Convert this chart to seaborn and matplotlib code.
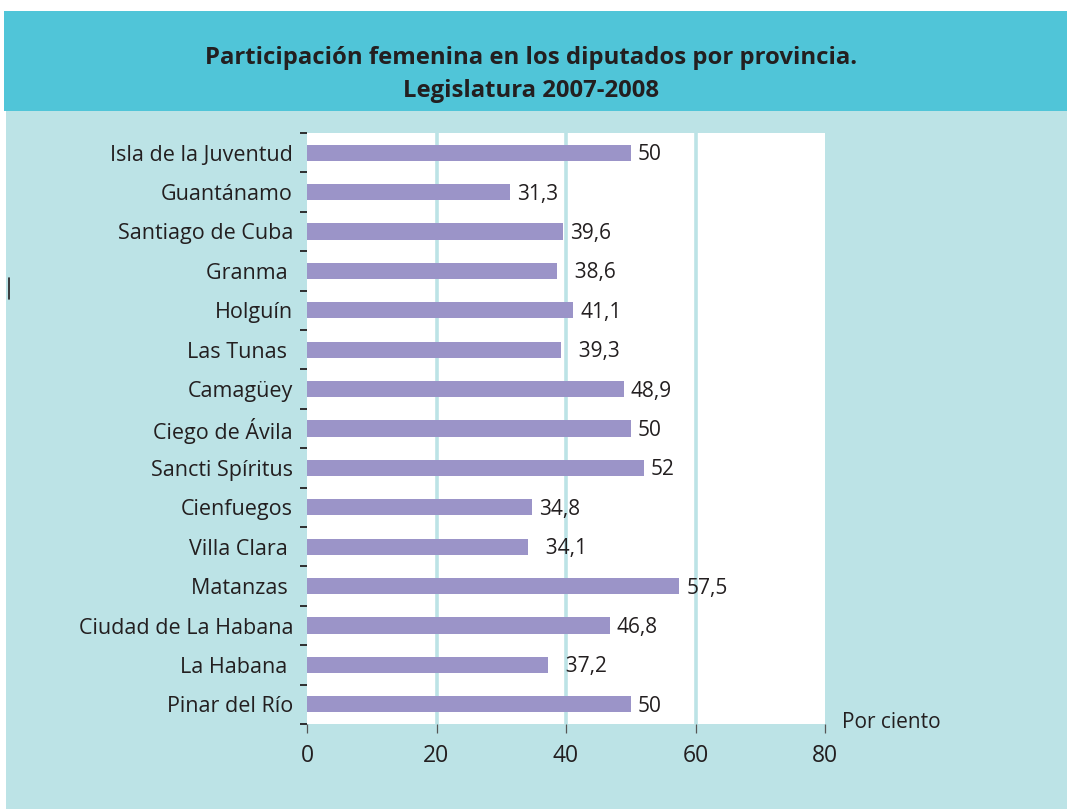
import matplotlib
matplotlib.use("Agg")
import matplotlib.pyplot as plt
import seaborn as sns
import pandas as pd
from matplotlib.patches import Rectangle
from matplotlib.lines import Line2D
from matplotlib.ticker import FixedLocator

categories = [
    "Isla de la Juventud", "Guantánamo", "Santiago de Cuba", "Granma ",
    "Holguín", "Las Tunas ", "Camagüey", "Ciego de Ávila", "Sancti Spíritus",
    "Cienfuegos", "Villa Clara ", "Matanzas ", "Ciudad de La Habana",
    "La Habana ", "Pinar del Río",
]
values = [50, 31.3, 39.6, 38.6, 41.1, 39.3, 48.9, 50, 52, 34.8, 34.1, 57.5, 46.8, 37.2, 50]
value_labels = ["50", "31,3", "39,6", "  38,6", "41,1", "  39,3", "48,9", "50", "52",
                "34,8", "  34,1", "57,5", "46,8", "  37,2", "50"]
x_ticks = [0, 20, 40, 60, 80]
title = "Participación femenina en los diputados por provincia.\nLegislatura 2007-2008"
unit_label = "Por ciento"

HEADER = "#50C5D8"
BG = "#BCE3E6"
BAR = "#9B94C8"
TEXT = "#231F20"

sns.set_theme(style="white")
plt.rcParams["font.family"] = ["Open Sans", "DejaVu Sans"]

W, H = 1067, 809
fig = plt.figure(figsize=(W / 100, H / 100), dpi=100)
fig.patch.set_facecolor("white")

# background panels
fig.patches.append(Rectangle((6 / W, 0), 1, 1 - 111 / H, transform=fig.transFigure,
                             facecolor=BG, edgecolor="none", zorder=-10))
fig.patches.append(Rectangle((4 / W, 1 - 111 / H), 1, 100 / H, transform=fig.transFigure,
                             facecolor=HEADER, edgecolor="none", zorder=-10))
fig.lines.append(Line2D([8.5 / W, 8.5 / W], [1 - 278 / H, 1 - 299 / H],
                        transform=fig.transFigure, color=TEXT, lw=1.2))

ax = fig.add_axes([307 / W, 1 - 724 / H, (825 - 307) / W, (724 - 133) / H])
ax.set_facecolor("white")

df = pd.DataFrame({"provincia": categories, "valor": values})
sns.barplot(data=df, x="valor", y="provincia", orient="h", color=BAR,
            saturation=1, width=0.41, ax=ax, zorder=3, linewidth=0, edgecolor="none")

ax.set_xlim(0, 80)
ax.set_ylim(len(categories) - 0.5, -0.5)
for s in ax.spines.values():
    s.set_visible(False)

ax.set_axisbelow(True)
for g in [20, 40, 60]:
    ax.axvline(g, color=BG, lw=2.6, zorder=1)

ax.set_xticks(x_ticks)
ax.set_xticklabels([str(t) for t in x_ticks])
ax.tick_params(axis="x", bottom=True, direction="out", length=6.5, width=0.9,
               color="#555555", labelsize=16.5, labelcolor=TEXT, pad=8)

ax.set_yticks(range(len(categories)))
ax.set_yticklabels(categories)
ax.yaxis.set_minor_locator(FixedLocator([i - 0.5 for i in range(len(categories) + 1)]))
ax.tick_params(axis="y", which="major", left=True, length=0, labelsize=15.5,
               labelcolor=TEXT, pad=10)
ax.tick_params(axis="y", which="minor", left=True, direction="out", length=5,
               width=1.3, color=TEXT)
ax.set_xlabel("")
ax.set_ylabel("")

bars = ax.containers[0]
for rect, lab in zip(bars, value_labels):
    ax.annotate(lab, (rect.get_x() + rect.get_width(), rect.get_y() + rect.get_height() / 2),
                xytext=(5, -1.5), textcoords="offset points", ha="left", va="center",
                fontsize=15, color=TEXT, zorder=5)

fig.text(842 / W, 1 - 728 / H, unit_label, fontsize=15, color=TEXT,
         ha="left", va="baseline")
fig.text(531 / W, 1 - 74.5 / H, title, fontsize=17.2, fontweight="bold",
         color=TEXT, ha="center", va="center", linespacing=1.5)

fig.savefig("out.png", dpi=100, facecolor=fig.get_facecolor())
